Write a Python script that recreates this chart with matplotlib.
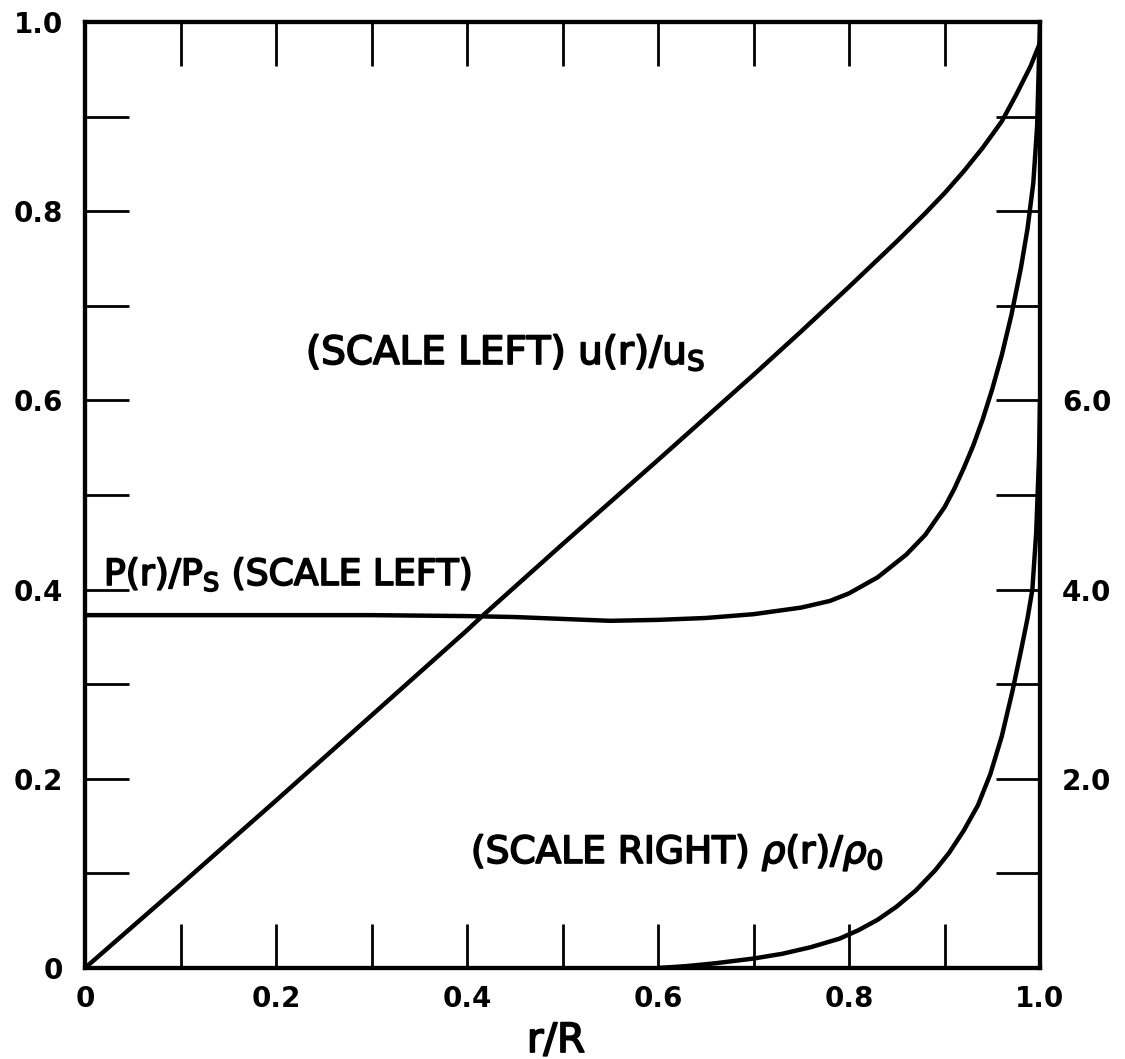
import matplotlib
matplotlib.use("Agg")
import matplotlib.pyplot as plt
import matplotlib.patheffects as pe
from matplotlib.ticker import FixedLocator

plt.rcParams["font.family"] = "DejaVu Sans"
plt.rcParams["mathtext.fontset"] = "dejavusans"

# Particle velocity behind the blast front, u(r)/u_s (left scale)
r_u = [0.0, 0.1, 0.2, 0.3, 0.4, 0.417, 0.5, 0.6, 0.7, 0.75, 0.8, 0.85,
       0.88, 0.9, 0.92, 0.94, 0.96, 0.975, 0.99, 1.0]
u_ratio = [0.0, 0.088, 0.177, 0.267, 0.357, 0.373, 0.448, 0.537, 0.627, 0.673,
           0.720, 0.768, 0.798, 0.819, 0.842, 0.867, 0.895, 0.923, 0.953, 0.978]

# Pressure, P(r)/P_s (left scale)
r_p = [0.0, 0.1, 0.2, 0.3, 0.4, 0.45, 0.5, 0.55, 0.6, 0.65, 0.7, 0.75, 0.78,
       0.8, 0.83, 0.86, 0.88, 0.9, 0.91, 0.92, 0.93, 0.94, 0.95, 0.96, 0.97,
       0.98, 0.987, 0.993, 0.997, 1.0]
p_ratio = [0.373, 0.373, 0.373, 0.373, 0.372, 0.371, 0.369, 0.367, 0.368,
           0.370, 0.374, 0.381, 0.388, 0.396, 0.413, 0.437, 0.458, 0.487,
           0.506, 0.528, 0.552, 0.580, 0.612, 0.648, 0.690, 0.740, 0.782,
           0.830, 0.890, 1.0]

# Density, rho(r)/rho_0 (right scale)
r_rho = [0.6, 0.63, 0.66, 0.7, 0.73, 0.76, 0.79, 0.81, 0.83, 0.85, 0.87, 0.89,
         0.905, 0.92, 0.935, 0.948, 0.96, 0.971, 0.98, 0.987, 0.992, 0.996,
         0.999, 1.0]
rho_ratio = [0.0, 0.02, 0.05, 0.10, 0.15, 0.22, 0.31, 0.40, 0.51, 0.65, 0.82,
             1.03, 1.22, 1.45, 1.72, 2.05, 2.45, 2.92, 3.35, 3.70, 4.00, 4.60,
             5.40, 6.0]

x_major = [0.0, 0.2, 0.4, 0.6, 0.8, 1.0]
x_labels = ["0", "0.2", "0.4", "0.6", "0.8", "1.0"]
x_minor = [0.1, 0.3, 0.5, 0.7, 0.9]
left_major = [0.0, 0.2, 0.4, 0.6, 0.8, 1.0]
left_labels = ["0", "0.2", "0.4", "0.6", "0.8", "1.0"]
left_minor = [0.1, 0.3, 0.5, 0.7, 0.9]
right_major = [2.0, 4.0, 6.0]
right_labels = ["2.0", "4.0", "6.0"]
right_minor = [1.0, 3.0, 5.0, 7.0, 8.0, 9.0]

W, H = 1125, 1059
fig = plt.figure(figsize=(W / 100, H / 100), dpi=100)
ax = fig.add_axes([85 / W, 1 - 968 / H, (1040 - 85) / W, (968 - 22) / H])
ax2 = ax.twinx()

line_kw = dict(color="black", lw=3.2, solid_capstyle="round", solid_joinstyle="round")
ax.plot(r_u, u_ratio, **line_kw)
ax.plot(r_p, p_ratio, **line_kw)
ax2.plot(r_rho, rho_ratio, **line_kw)

ax.set_xlim(0, 1)
ax.set_ylim(0, 1)
ax2.set_ylim(0, 10)

for a in (ax, ax2):
    for s in a.spines.values():
        s.set_linewidth(3.0)

tick_len = 32
ax.xaxis.set_major_locator(FixedLocator(x_major))
ax.xaxis.set_minor_locator(FixedLocator(x_minor))
ax.set_xticklabels(x_labels)
ax.yaxis.set_major_locator(FixedLocator(left_major))
ax.yaxis.set_minor_locator(FixedLocator(left_minor))
ax.set_yticklabels(left_labels)
ax.tick_params(which="both", direction="in", length=tick_len, width=2.0,
               top=True, bottom=True, left=True, right=False)
ax.tick_params(axis="y", which="major", pad=16, labelsize=20)
ax.tick_params(axis="x", which="major", pad=12, labelsize=20)
for lab in ax.get_xticklabels() + ax.get_yticklabels():
    lab.set_fontweight("bold")

ax2.yaxis.set_major_locator(FixedLocator(right_major))
ax2.yaxis.set_minor_locator(FixedLocator(right_minor))
ax2.set_yticklabels(right_labels)
ax2.tick_params(which="both", direction="in", length=tick_len, width=2.0,
                left=False, right=True)
ax2.tick_params(axis="y", which="major", pad=16, labelsize=20)
for lab in ax2.get_yticklabels():
    lab.set_fontweight("bold")

heavy = [pe.withStroke(linewidth=1.3, foreground="black")]


def fig_text(px, py, s, size=27, **kw):
    fig.text(px / W, 1 - py / H, s, ha="left", va="baseline", fontsize=size,
             path_effects=heavy, **kw)


fig_text(306, 364, r"(SCALE LEFT) u(r)/u$_{\rm S}$", size=28)
fig_text(104, 585, r"P(r)/P$_{\rm S}$ (SCALE LEFT)", size=26)
fig_text(471, 863, r"(SCALE RIGHT) $\rho$(r)/$\rho_{\rm 0}$", size=27)
fig.text(556 / W, 1 - 1052 / H, "r/R", ha="center", va="baseline", fontsize=29,
         path_effects=heavy)

fig.savefig("out.png", dpi=100, facecolor="white")
